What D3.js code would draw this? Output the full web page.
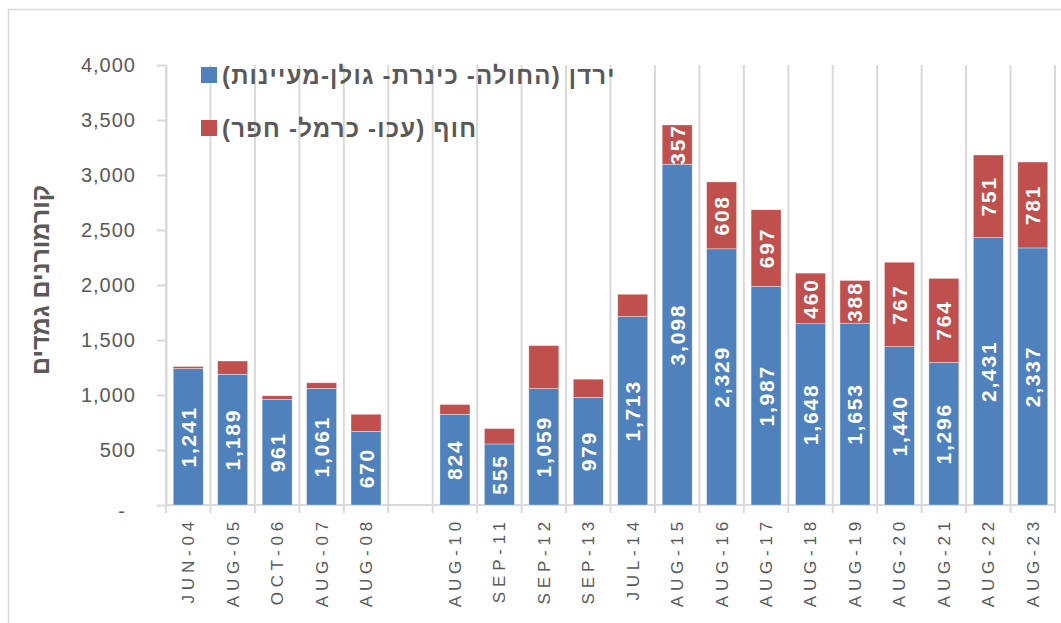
<!DOCTYPE html>
<html>
<head>
<meta charset="utf-8">
<script src="https://cdn.jsdelivr.net/npm/d3@7"></script>
<style>
  body { margin: 0; background: #fff; }
  svg { display: block; }
</style>
</head>
<body>
<div id="chart"></div>
<script>
// ── Data ──────────────────────────────────────────────────────────────────────
// "" is the empty slot left between AUG-08 and AUG-10
const categories = ["JUN-04", "AUG-05", "OCT-06", "AUG-07", "AUG-08", "",
  "AUG-10", "SEP-11", "SEP-12", "SEP-13", "JUL-14", "AUG-15", "AUG-16", "AUG-17",
  "AUG-18", "AUG-19", "AUG-20", "AUG-21", "AUG-22", "AUG-23"];
const jordan = [1241, 1189, 961, 1061, 670, null,
  824, 555, 1059, 979, 1713, 3098, 2329, 1987, 1648, 1653, 1440, 1296, 2431, 2337];
const coast = [18, 120, 32, 50, 155, null,
  90, 140, 390, 165, 203, 357, 608, 697, 460, 388, 767, 764, 751, 781];
// coast values that carry a data label in the original
const coastLabelled = ["AUG-15", "AUG-16", "AUG-17", "AUG-18", "AUG-19",
  "AUG-20", "AUG-21", "AUG-22", "AUG-23"];
const yTicks = [0, 500, 1000, 1500, 2000, 2500, 3000, 3500, 4000];

const seriesNames = ["ירדן (החולה- כינרת- גולן-מעיינות)", "חוף (עכו- כרמל- חפר)"];
const yTitle = "קורמורנים גמדים";
const COLORS = ["#4F81BD", "#C0504D"];

// ── Dimensions ────────────────────────────────────────────────────────────────
const W = 1061, H = 623;
const plot = { left: 166, right: 1055, top: 65, bottom: 505 };
const GRID = "#d9d9d9", TEXT = "#595959";
const FONT = "'Liberation Sans', Arial, sans-serif";

const svg = d3.select("#chart").append("svg")
  .attr("width", W).attr("height", H);

svg.append("rect")   // chart frame
  .attr("x", 8.5).attr("y", 9.5).attr("width", W + 20).attr("height", H + 20)
  .attr("fill", "#fff").attr("stroke", GRID).attr("stroke-width", 1.5);

// ── Scales ────────────────────────────────────────────────────────────────────
const x = d3.scaleBand().domain(categories.map((c, i) => i))
  .range([plot.left, plot.right]).paddingInner(0.325).paddingOuter(0.1625);
const y = d3.scaleLinear().domain([0, 4000]).range([plot.bottom, plot.top]);

// ── Vertical grid lines at category boundaries ────────────────────────────────
const half = x.step() * x.paddingInner() / 2;
const bounds = categories.map((c, i) => x(i) - half).concat([plot.right]);
svg.append("g").selectAll("line").data(bounds).join("line")
  .attr("x1", d => d).attr("x2", d => d)
  .attr("y1", plot.top).attr("y2", plot.bottom + 8)
  .attr("stroke", GRID).attr("stroke-width", 2);

svg.append("line")   // category axis line
  .attr("x1", plot.left).attr("x2", plot.right)
  .attr("y1", plot.bottom).attr("y2", plot.bottom)
  .attr("stroke", GRID).attr("stroke-width", 2);

// ── Y axis ────────────────────────────────────────────────────────────────────
const yAxis = svg.append("g").attr("transform", `translate(${plot.left},0)`)
  .call(d3.axisLeft(y).tickValues(yTicks).tickSize(9).tickSizeOuter(0).tickPadding(21)
    .tickFormat(d => d === 0 ? "-" : d3.format(",")(d)));
yAxis.select(".domain").attr("stroke", GRID).attr("stroke-width", 2);
yAxis.selectAll(".tick line").attr("stroke", GRID).attr("stroke-width", 2);
yAxis.selectAll(".tick text")
  .attr("fill", TEXT).style("font-family", FONT)
  .style("font-size", "20px").style("letter-spacing", "1px");
yAxis.selectAll(".tick").filter(d => d === 0).select("text")
  .attr("dx", -10).attr("dy", "0.6em");

svg.append("text")
  .attr("transform", `translate(40,280) rotate(-90)`)
  .attr("text-anchor", "middle").attr("dominant-baseline", "central")
  .attr("direction", "rtl")
  .attr("fill", TEXT).style("font-family", FONT)
  .style("font-size", "25px").style("font-weight", "bold")
  .text(yTitle);

// ── X axis labels ─────────────────────────────────────────────────────────────
const xAxis = svg.append("g").attr("transform", `translate(0,${plot.bottom})`)
  .call(d3.axisBottom(x).tickSize(0).tickFormat(i => categories[i]));
xAxis.select(".domain").remove();
xAxis.selectAll(".tick text")
  .attr("transform", "rotate(-90)")
  .attr("x", -12).attr("y", 0).attr("dy", "0.35em")
  .attr("text-anchor", "end")
  .attr("fill", TEXT).style("font-family", FONT)
  .style("font-size", "17px").style("letter-spacing", "4.8px");

// ── Stacked bars ──────────────────────────────────────────────────────────────
const rows = categories.map((c, i) => ({ i, cat: c, jordan: jordan[i], coast: coast[i] }))
  .filter(d => d.jordan != null);

const stacked = d3.stack().keys(["jordan", "coast"])(rows);

const layers = svg.append("g").selectAll("g").data(stacked).join("g")
  .attr("fill", (d, k) => COLORS[k]);

layers.selectAll("rect").data(d => d).join("rect")
  .attr("x", d => x(d.data.i))
  .attr("width", x.bandwidth())
  .attr("y", d => y(d[1]))
  .attr("height", d => y(d[0]) - y(d[1]))
  .attr("stroke", "#fff").attr("stroke-width", 0.6).attr("stroke-opacity", 0.6);

// ── Data labels ───────────────────────────────────────────────────────────────
stacked.forEach((layer, k) => {
  const pts = layer.filter(d => k === 0 || coastLabelled.includes(d.data.cat));
  svg.append("g").selectAll("text").data(pts).join("text")
    .attr("transform", d =>
      `translate(${x(d.data.i) + x.bandwidth() / 2},${y((d[0] + d[1]) / 2)}) rotate(-90)`)
    .attr("text-anchor", "middle").attr("dominant-baseline", "central")
    .attr("fill", "#fff")
    .style("font-family", FONT)
    .style("font-size", "21px").style("font-weight", "bold").style("letter-spacing", "1.8px")
    .text(d => d3.format(",")(d.data[layer.key]));
});

// ── Legend ────────────────────────────────────────────────────────────────────
const legend = svg.append("g");
seriesNames.forEach((name, k) => {
  const row = legend.append("g").attr("transform", `translate(201,${75 + k * 53})`);
  row.append("rect").attr("x", 0).attr("y", -8).attr("width", 16).attr("height", 16)
    .attr("fill", COLORS[k]);
  row.append("text").attr("x", 21).attr("y", 0)
    .attr("direction", "rtl").attr("text-anchor", "end")
    .attr("dominant-baseline", "central")
    .attr("fill", TEXT).style("font-family", FONT)
    .style("font-size", "24px").style("font-weight", "bold").style("letter-spacing", "1.2px")
    .text(name);
});
</script>
</body>
</html>
